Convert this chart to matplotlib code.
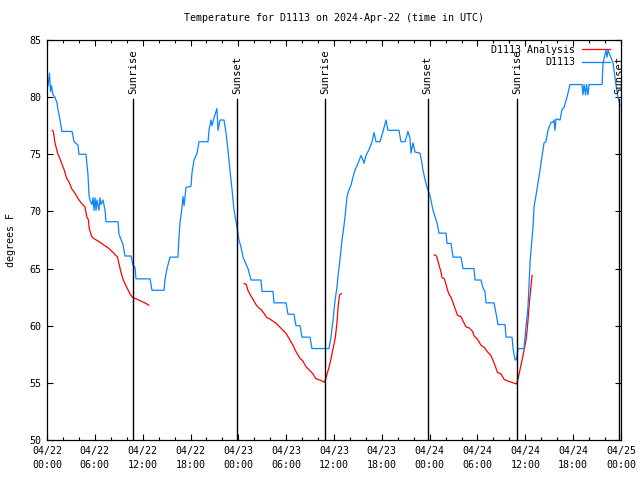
import matplotlib
matplotlib.use("Agg")
import matplotlib.pyplot as plt
import matplotlib.transforms as mtransforms
import numpy as np

# hours since 04/22 00:00 UTC
station_hours = [0.13, 0.31, 0.44, 0.56, 0.75, 1.0, 1.25, 1.38, 1.63, 1.88, 3.14, 3.39, 3.89, 4.01, 4.89,
                 5.14, 5.27, 5.39, 5.64, 5.77, 5.9, 6.02, 6.15, 6.27, 6.52, 6.65, 6.77, 7.02, 7.28, 7.4,
                 8.91, 9.03, 9.53, 9.78, 10.54, 10.79, 11.04, 11.16, 12.92, 13.17, 14.68, 14.8, 15.05,
                 15.43, 16.43, 16.56, 16.68, 16.93, 17.06, 17.19, 17.44, 18.06, 18.19, 18.44, 18.82,
                 19.07, 20.2, 20.32, 20.57, 20.7, 20.95, 21.32, 21.45, 21.7, 22.2, 22.45, 22.7, 22.95,
                 23.21, 23.46, 23.83, 24.08, 24.33, 24.59, 25.21, 25.59, 26.84, 26.97, 28.35, 28.47,
                 29.98, 30.23, 30.98, 31.23, 31.74, 31.99, 32.99, 33.24, 35.37, 35.62, 35.88, 36.13,
                 36.38, 36.5, 36.75, 37.0, 37.13, 37.38, 37.63, 37.88, 38.13, 38.38, 38.63, 39.01,
                 39.39, 39.64, 39.76, 40.01, 40.39, 40.77, 41.02, 41.27, 41.77, 42.15, 42.52, 42.77,
                 44.15, 44.4, 44.91, 45.28, 45.53, 45.66, 45.91, 46.16, 46.79, 47.04, 47.16, 47.41,
                 47.67, 48.04, 48.42, 48.92, 49.17, 50.05, 50.18, 50.68, 50.93, 51.93, 52.18, 53.56,
                 53.69, 54.44, 54.69, 54.94, 55.07, 56.07, 56.32, 56.57, 57.45, 57.58, 58.33, 58.46,
                 58.71, 58.84, 58.96, 59.08, 59.83, 60.08, 60.33, 60.59, 60.71, 60.96, 61.09, 61.34,
                 61.59, 61.84, 62.09, 62.34, 62.59, 62.84, 63.22, 63.47, 63.6, 63.72, 63.85, 64.35,
                 64.6, 64.85, 65.23, 65.6, 67.11, 67.23, 67.36, 67.55, 67.67, 67.86, 67.99, 69.62,
                 69.75, 70.12, 70.25, 70.37, 71.0, 71.38, 71.63, 71.88]
station_temps = [81.0, 82.1, 80.5, 81.0, 80.2, 80.0, 79.5, 78.9, 78.0, 77.0, 77.0, 76.1, 75.8, 75.0, 75.0,
                 73.2, 71.4, 71.0, 70.6, 71.2, 70.1, 71.2, 70.1, 71.0, 70.1, 71.2, 70.6, 71.0, 70.1, 69.1,
                 69.1, 68.0, 67.1, 66.1, 66.1, 65.3, 65.1, 64.1, 64.1, 63.1, 63.1, 64.0, 65.0,
                 66.0, 66.0, 67.8, 69.0, 70.3, 71.3, 70.5, 72.1, 72.2, 73.4, 74.5, 75.1,
                 76.1, 76.1, 77.1, 78.0, 77.5, 78.2, 79.0, 77.1, 78.0, 78.0, 76.9, 75.4, 73.6,
                 71.9, 70.1, 68.6, 67.5, 66.9, 66.0, 65.0, 64.0, 64.0, 63.0, 63.0, 62.0,
                 62.0, 61.0, 61.0, 60.0, 60.0, 59.0, 59.0, 58.0, 58.0, 59.0, 60.5, 62.2,
                 63.4, 64.3, 65.8, 67.5, 68.1, 69.5, 71.3, 71.9, 72.3, 73.0, 73.6, 74.2,
                 74.9, 74.5, 74.2, 74.9, 75.4, 76.1, 76.9, 76.1, 76.1, 77.0, 78.0, 77.1,
                 77.1, 76.1, 76.1, 77.0, 76.4, 75.1, 76.0, 75.2, 75.1, 74.2, 73.6, 72.8,
                 72.1, 71.4, 70.1, 69.0, 68.1, 68.1, 67.2, 67.2, 66.0, 66.0, 65.0, 65.0,
                 64.0, 64.0, 63.3, 63.0, 62.0, 62.0, 61.1, 60.1, 60.1, 59.0, 59.0, 58.0,
                 57.0, 57.0, 57.4, 58.0, 58.0, 59.9, 61.6, 65.5, 66.6, 68.6, 70.4, 71.4,
                 72.5, 73.6, 74.8, 76.0, 76.1, 77.1, 77.8, 77.8, 78.0, 77.1, 78.1, 78.0,
                 78.9, 79.1, 80.0, 81.1, 81.1, 80.2, 81.1, 80.2, 81.1, 80.2, 81.1, 81.1,
                 83.0, 84.1, 83.5, 84.1, 83.0, 81.0, 80.0, 79.3]

analysis_hours_1 = [0.67, 0.79, 1.0, 1.33, 1.63, 1.84, 2.17, 2.46, 2.75, 3.09, 3.5, 3.92, 4.34, 4.76,
                    5.0, 5.18, 5.3, 5.6, 5.93, 6.43, 7.05, 7.68, 8.3, 8.85, 9.0, 9.27, 9.56, 9.98,
                    10.4, 10.7, 11.0, 11.65, 12.27, 12.77]
analysis_temps_1 = [77.1, 77.0, 76.0, 75.1, 74.6, 74.2, 73.6, 72.9, 72.6, 72.0, 71.6, 71.1, 70.7, 70.4,
                    69.5, 69.3, 68.5, 67.8, 67.6, 67.4, 67.1, 66.8, 66.4, 66.0, 65.5, 64.7, 64.0, 63.4,
                    62.8, 62.5, 62.4, 62.2, 62.0, 61.8]
analysis_hours_2 = [24.71, 25.0, 25.2, 25.5, 25.84, 26.26, 26.67, 26.88, 27.3, 27.59, 27.92, 28.34,
                    28.76, 29.18, 29.6, 30.01, 30.43, 30.84, 31.26, 31.68, 32.1, 32.5, 32.93, 33.35,
                    33.68, 33.97, 34.4, 34.8, 34.94, 35.1, 35.35, 35.56, 35.77, 35.94, 36.15, 36.27,
                    36.4, 36.52, 36.69, 36.94]
analysis_temps_2 = [63.7, 63.6, 63.1, 62.7, 62.3, 61.8, 61.5, 61.4, 61.0, 60.7, 60.6, 60.4,
                    60.2, 59.9, 59.6, 59.3, 58.8, 58.3, 57.7, 57.2, 56.9, 56.4, 56.1, 55.8,
                    55.4, 55.3, 55.2, 55.05, 55.3, 55.7, 56.3, 56.9, 57.6, 58.2, 58.9, 59.6,
                    60.5, 61.7, 62.7, 62.8]
analysis_hours_3 = [48.59, 48.87, 49.0, 49.21, 49.42, 49.55, 49.84, 50.05, 50.25, 50.46, 50.67, 50.88,
                    51.09, 51.5, 51.93, 52.13, 52.34, 52.55, 52.97, 53.38, 53.59, 54.01, 54.43, 54.85,
                    55.26, 55.68, 56.1, 56.31, 56.51, 56.93, 57.35, 57.65, 58.9, 59.1, 59.5, 59.8,
                    60.1, 60.3, 60.5, 60.7, 60.85]
analysis_temps_3 = [66.2, 66.1, 65.75, 65.2, 64.7, 64.2, 64.1, 63.6, 63.1, 62.7, 62.5, 62.1,
                    61.7, 60.9, 60.8, 60.5, 60.2, 59.9, 59.8, 59.5, 59.1, 58.8, 58.3, 58.1,
                    57.7, 57.4, 56.7, 56.3, 55.9, 55.8, 55.3, 55.2, 54.9, 55.4, 56.7, 57.7,
                    58.8, 60.2, 62.0, 63.4, 64.4]

sun_hours = [10.8, 23.83, 34.85, 47.75, 58.94, 71.8]
sun_labels = ["Sunrise", "Sunset", "Sunrise", "Sunset", "Sunrise", "Sunset"]

tick_hours = list(range(0, 73, 6))
tick_labels = ["04/22\n00:00", "04/22\n06:00", "04/22\n12:00", "04/22\n18:00",
               "04/23\n00:00", "04/23\n06:00", "04/23\n12:00", "04/23\n18:00",
               "04/24\n00:00", "04/24\n06:00", "04/24\n12:00", "04/24\n18:00",
               "04/25\n00:00"]

plt.rcParams['font.family'] = ['DejaVu Sans Mono']
plt.rcParams['font.size'] = 7.2

fig = plt.figure(figsize=(6.4, 4.8), dpi=100)
ax = fig.add_axes([47 / 640, 40 / 480, 574 / 640, 400 / 480])

red = "#ff0000"
blue = "#0a84ff"

ax.plot(analysis_hours_1, analysis_temps_1, color=red, lw=0.9, label="D1113 Analysis")
ax.plot(analysis_hours_2, analysis_temps_2, color=red, lw=0.9)
ax.plot(analysis_hours_3, analysis_temps_3, color=red, lw=0.9)
ax.plot(station_hours, station_temps, color=blue, lw=0.9, label="D1113")

trans = mtransforms.blended_transform_factory(ax.transData, ax.transAxes)
for h, lab in zip(sun_hours, sun_labels):
    ax.plot([h, h], [0, 0.853], color="black", lw=1.0, transform=trans)
    ax.text(h, 0.866, lab, rotation=90, ha="center", va="bottom", fontsize=7.6, transform=trans)

ax.set_xlim(0, 72)
ax.set_ylim(50, 85)
ax.set_xticks(tick_hours)
ax.set_xticklabels(tick_labels, linespacing=1.5)
ax.set_xticks(np.arange(0, 73, 2), minor=True)
ax.set_yticks(np.arange(50, 86, 5))
ax.tick_params(which="both", direction="in", top=True, right=True)
ax.tick_params(which="major", length=4, width=0.8, pad=4)
ax.tick_params(which="minor", length=2.2, width=0.8)
for s in ax.spines.values():
    s.set_linewidth(0.9)

ax.set_title("Temperature for D1113 on 2024-Apr-22 (time in UTC)", fontsize=7.2, pad=14)
ax.set_ylabel("degrees F", labelpad=10)

ax.legend(loc="upper right", bbox_to_anchor=(0.99, 1.0), frameon=False, markerfirst=False,
          handlelength=2.8, handletextpad=0.7, labelspacing=0.25, borderpad=0.2, borderaxespad=0.3)

fig.savefig("out.png", dpi=100)
